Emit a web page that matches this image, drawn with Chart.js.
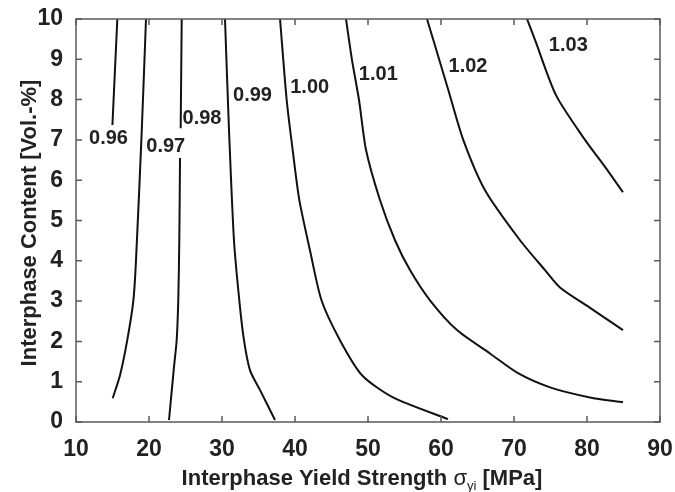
<!DOCTYPE html>
<html>
<head>
<meta charset="utf-8">
<script src="https://cdn.jsdelivr.net/npm/chart.js@4.4.1/dist/chart.umd.min.js"></script>
<style>
html,body{margin:0;padding:0;background:#fff;}
#wrap{width:675px;height:492px;}
</style>
</head>
<body>
<div id="wrap"><canvas id="myChart" width="675" height="492"></canvas></div>
<script>
// contour levels and their label positions
var levels=['0.96','0.97','0.98','0.99','1.00','1.01','1.02','1.03'];
var labelX=[14.45,22.29,27.26,34.18,42.01,51.41,63.70,77.44];
var labelY=[7.03,6.83,7.54,8.11,8.29,8.63,8.81,9.35];

// contour lines (null = gap for label)
var c096x=[15.66,14.99];
var c096y=[10,7.37];
var c097x=[19.59,19.0,18.22,17.85,16.99,16.03,15.03];
var c097y=[10,7.2,4.01,3.00,2.00,1.16,0.59];
var c098x=[24.48,24.34,24.3,24.25,24.15,24.01,23.79,23.42,22.74];
var c098y=[10,7.29,null,6.55,4.51,3.02,2.03,1.36,0.05];
var c099x=[30.41,30.96,31.64,32.37,33.01,33.84,35.21,37.26];
var c099y=[10,7.24,4.51,3.02,2.03,1.28,0.79,0.05];
var c100x=[37.95,38.86,39.68,40.59,42.05,43.63,46.16,49.18,53.42,60.96];
var c100y=[10,7.99,6.75,5.51,4.26,3.02,2.03,1.16,0.61,0.07];
var c101x=[46.99,47.81,48.77,49.73,51.64,53.70,55.75,58.49,62.19,66.71,70.55,74.93,80.41,84.93];
var c101y=[10,8.98,7.99,6.75,5.51,4.51,3.77,3.02,2.28,1.70,1.21,0.86,0.61,0.49];
var c102x=[58.08,58.95,61.0,63.05,66.03,70.82,74.25,76.30,80.27,84.93];
var c102y=[10,9.48,8.24,7.00,5.75,4.51,3.77,3.34,2.85,2.28];
var c103x=[71.78,72.88,75.75,79.73,82.47,84.93];
var c103y=[10,9.48,8.11,7.00,6.33,5.70];

var xTicks=[10,20,30,40,50,60,70,80,90];
var yTicks=[0,1,2,3,4,5,6,7,8,9,10];

var FONT='"Liberation Sans", Arial, sans-serif';
var lines=[[c096x,c096y],[c097x,c097y],[c098x,c098y],[c099x,c099y],[c100x,c100y],[c101x,c101y],[c102x,c102y],[c103x,c103y]];
var datasets=[];
for(var i=0;i<lines.length;i++){
    var pts=[];
    for(var j=0;j<lines[i][0].length;j++){
        pts.push({x:lines[i][0][j],y:lines[i][1][j]});
    }
    datasets.push({
        label:levels[i],
        data:pts,
        borderColor:'#111',
        borderWidth:2,
        pointRadius:0,
        tension:0.25,
        spanGaps:false,
        fill:false
    });
}

var frame={
    id:'frame',
    afterDraw:function(chart){
        var c=chart.ctx,a=chart.chartArea,xs=chart.scales.x,ys=chart.scales.y;
        c.save();
        // frame + inward ticks
        c.strokeStyle='#5a5a5a';
        c.lineWidth=1.5;
        c.strokeRect(a.left,a.top,a.right-a.left,a.bottom-a.top);
        c.beginPath();
        for(var i=0;i<xTicks.length;i++){
            var px=xs.getPixelForValue(xTicks[i]);
            c.moveTo(px,a.bottom);c.lineTo(px,a.bottom-6);
            c.moveTo(px,a.top);c.lineTo(px,a.top+6);
        }
        for(var i=0;i<yTicks.length;i++){
            var py=ys.getPixelForValue(yTicks[i]);
            c.moveTo(a.left,py);c.lineTo(a.left+6,py);
            c.moveTo(a.right,py);c.lineTo(a.right-6,py);
        }
        c.stroke();
        // contour labels
        c.fillStyle='#222';
        c.font='bold 20px '+FONT;
        c.textAlign='center';
        c.textBaseline='middle';
        for(var i=0;i<levels.length;i++){
            c.fillText(levels[i],xs.getPixelForValue(labelX[i]),ys.getPixelForValue(labelY[i]));
        }
        // x title with sigma subscript
        var parts=[
            {t:'Interphase Yield Strength ',f:'bold 22px '+FONT,dy:0},
            {t:'\u03c3',f:'22px '+FONT,dy:0},
            {t:'yi',f:'13px '+FONT,dy:5},
            {t:' [MPa]',f:'bold 22px '+FONT,dy:0}
        ];
        var total=0;
        for(var i=0;i<parts.length;i++){c.font=parts[i].f;total+=c.measureText(parts[i].t).width;}
        var x0=362-total/2,base=485;
        c.textAlign='left';
        c.textBaseline='alphabetic';
        for(var i=0;i<parts.length;i++){
            c.font=parts[i].f;
            c.fillText(parts[i].t,x0,base+parts[i].dy);
            x0+=c.measureText(parts[i].t).width;
        }
        // y title
        c.translate(36,223);
        c.rotate(-Math.PI/2);
        c.font='bold 22px '+FONT;
        c.textAlign='center';
        c.fillText('Interphase Content [Vol.-%]',0,0);
        c.restore();
    }
};

var ctx=document.getElementById('myChart').getContext('2d');
var chart=new Chart(ctx,{
    type:'line',
    data:{datasets:datasets},
    options:{
        responsive:false,
        animation:false,
        layout:{padding:{top:19,right:15,left:0,bottom:0}},
        plugins:{legend:{display:false},tooltip:{enabled:false}},
        scales:{
            x:{
                type:'linear',min:10,max:90,
                grid:{display:false,drawTicks:false},
                border:{display:false},
                afterBuildTicks:function(s){s.ticks=xTicks.map(function(v){return {value:v};});},
                afterFit:function(s){s.height=70;s.paddingLeft=0;s.paddingRight=0;},
                ticks:{color:'#222',padding:14,font:{family:FONT,size:23,weight:'bold'}}
            },
            y:{
                type:'linear',min:0,max:10,
                grid:{display:false,drawTicks:false},
                border:{display:false},
                afterBuildTicks:function(s){s.ticks=yTicks.map(function(v){return {value:v};});},
                afterFit:function(s){s.width=76;s.paddingTop=0;s.paddingBottom=0;},
                ticks:{color:'#222',padding:13,font:{family:FONT,size:23,weight:'bold'}}
            }
        }
    },
    plugins:[frame]
});
</script>
</body>
</html>
